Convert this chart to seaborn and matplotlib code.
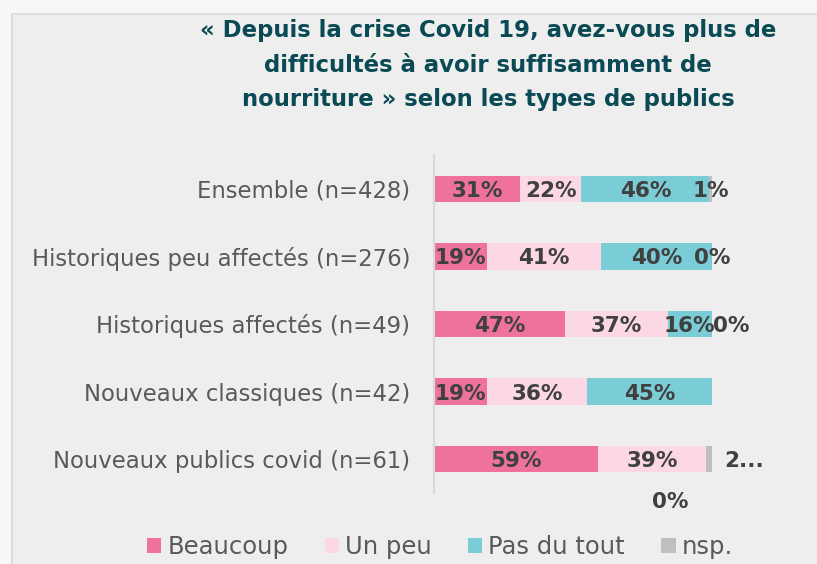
import numpy as np
import pandas as pd
import matplotlib
matplotlib.use("Agg")
import matplotlib.pyplot as plt
from matplotlib.patches import Patch, Rectangle
import seaborn as sns

# Survey results (percent) per audience type
categories = [
    "Ensemble (n=428)",
    "Historiques peu affectés (n=276)",
    "Historiques affectés (n=49)",
    "Nouveaux classiques (n=42)",
    "Nouveaux publics covid (n=61)",
]
beaucoup = [31, 19, 47, 19, 59]
un_peu = [22, 41, 37, 36, 39]
pas_du_tout = [46, 40, 16, 45, 0]
nsp = [1, 0, 0, np.nan, 2]

series_names = ["Beaucoup", "Un peu", "Pas du tout", "nsp."]
colors = ["#ef729e", "#fcd8e4", "#7accd6", "#bfbfbf"]

title = ("« Depuis la crise Covid 19, avez-vous plus de\n"
         "difficultés à avoir suffisamment de\n"
         "nourriture » selon les types de publics")

df = pd.DataFrame({
    "categorie": categories,
    "Beaucoup": beaucoup,
    "Un peu": un_peu,
    "Pas du tout": pas_du_tout,
    "nsp.": nsp,
})
vals = df[series_names].fillna(0)
cum = vals.cumsum(axis=1)
starts = cum - vals

plt.rcParams["font.family"] = ["DejaVu Sans"]

W, H = 817, 564
fig = plt.figure(figsize=(W / 100, H / 100), dpi=100, facecolor="#f7f7f7")

# light grey panel behind the chart
fig.patches.append(Rectangle((12 / W, -0.01), 1.0, 1 - 14 / H + 0.01,
                             transform=fig.transFigure, facecolor="#eeeeee",
                             edgecolor="#d9d9d9", linewidth=1.2, zorder=-5))

ax = fig.add_axes([434 / W, 1 - 493 / H, (800 - 434) / W, (493 - 155) / H])
ax.set_facecolor("none")
ax.set_zorder(2)

# stacked bars: cumulative totals drawn from the longest to the shortest
for name, color in reversed(list(zip(series_names, colors))):
    sns.barplot(x=cum[name].values, y=df["categorie"], orient="h",
                color=color, width=0.39, linewidth=0, errorbar=None,
                saturation=1, ax=ax)

ax.set_xlim(0, (800 - 434) / 2.78)
ax.set_ylim(4.5, -0.5)
ax.set_xlabel("")
ax.set_ylabel("")
ax.set_xticks([])
for s in ["top", "right", "bottom"]:
    ax.spines[s].set_visible(False)
ax.spines["left"].set_color("#d9d9d9")
ax.spines["left"].set_linewidth(1.5)
ax.tick_params(axis="y", length=0, pad=17, labelsize=16.4, labelcolor="#595959")

# value labels; a few are shifted where they would overlap
shifts = {
    (2, "nsp."): (7, 0),
    (4, "nsp."): (12.5, 0),
    (4, "Pas du tout"): (-13, 0.6),
}
for i in range(len(categories)):
    for name in series_names:
        v = df[name].iloc[i]
        if pd.isna(v):
            continue
        x = starts[name].iloc[i] + vals[name].iloc[i] / 2
        dx, dy = shifts.get((i, name), (0, 0))
        txt = f"{int(v)}%"
        if (i, name) == (4, "nsp."):
            txt = f"{int(v)}..."
        ax.text(x + dx, i + dy + 0.03, txt, ha="center", va="center",
                fontsize=15.5, fontweight="bold", color="#404040",
                clip_on=False)

fig.text(488 / W, 1 - 65 / H, title, ha="center", va="center",
         fontsize=16.4, fontweight="bold", color="#0a4a54", linespacing=1.66)

handles = [Patch(facecolor=c, edgecolor="none") for c in colors]
fig.legend(handles, series_names, loc="center", ncol=4,
           bbox_to_anchor=(440 / W, 1 - 547 / H), frameon=False,
           fontsize=17.5, labelcolor="#595959", handlelength=0.58,
           handleheight=0.58, handletextpad=0.25, columnspacing=1.5,
           borderaxespad=0, borderpad=0)

fig.savefig("out.png", dpi=100, facecolor=fig.get_facecolor())
